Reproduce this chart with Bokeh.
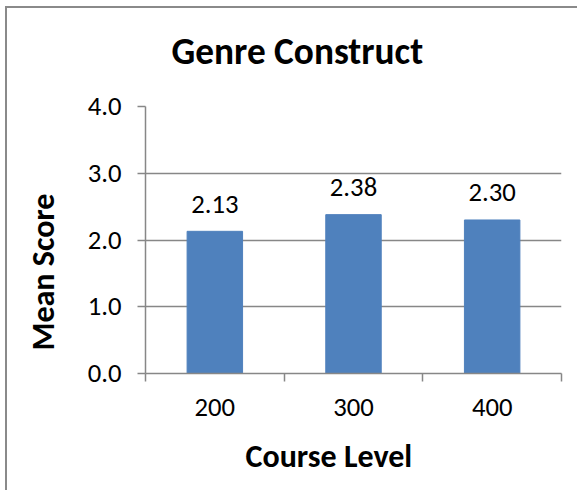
from bokeh.plotting import figure
from bokeh.models import Range1d, FixedTicker, Title
from bokeh.embed import file_html
from bokeh.resources import INLINE
from bokeh.core.properties import value

categories = ["200", "300", "400"]
scores = [2.13, 2.38, 2.30]
score_labels = ["2.13", "2.38", "2.30"]
y_ticks = [0, 1, 2, 3, 4]
title_text = "Genre Construct"
x_title = "Course Level"
y_title = "Mean Score"

FONT = "Carlito"
GRID = "#878787"
BAR = "#4F81BD"

positions = [i + 0.5 for i in range(len(categories))]
boundaries = list(range(len(categories) + 1))

p = figure(width=572, height=484,
           x_range=Range1d(0, len(categories)), y_range=Range1d(0, 4),
           output_backend="svg", toolbar_location=None, title=None,
           min_border_left=138, min_border_right=18,
           min_border_top=98, min_border_bottom=119)
p.styles = {"border-left": "2px solid #8a8a8a", "border-top": "2px solid #8a8a8a",
            "margin-left": "5px", "margin-top": "6px"}
p.outline_line_color = None
p.background_fill_color = "white"
p.border_fill_color = "white"

p.vbar(x=positions, top=scores, width=0.4, color=BAR)
p.text(x=positions, y=scores, text=score_labels, text_align="center",
       text_baseline="middle", y_offset=-27, text_font=value(FONT),
       text_font_size="26.7px", text_color="black")

# y axis
ya = p.yaxis[0]
ya.ticker = FixedTicker(ticks=y_ticks)
ya.major_label_overrides = {t: f"{t:.1f}" for t in y_ticks}
ya.major_tick_out = 8
ya.major_tick_in = 0
ya.minor_tick_out = 0
ya.minor_tick_in = 0
ya.axis_line_color = GRID
ya.axis_line_width = 1.5
ya.major_tick_line_color = GRID
ya.major_tick_line_width = 1.5
ya.major_label_text_font = FONT
ya.major_label_text_font_size = "26.7px"
ya.major_label_text_color = "black"
ya.major_label_standoff = 16

# x axis: labels at category centres, tick marks at category boundaries
xa = p.xaxis[0]
xa.ticker = FixedTicker(ticks=positions, minor_ticks=boundaries)
xa.major_label_overrides = {pos: c for pos, c in zip(positions, categories)}
xa.major_tick_out = 0
xa.major_tick_in = 0
xa.minor_tick_out = 8
xa.minor_tick_in = 0
xa.minor_tick_line_color = GRID
xa.minor_tick_line_width = 1.5
xa.axis_line_color = GRID
xa.axis_line_width = 1.5
xa.major_label_text_font = FONT
xa.major_label_text_font_size = "26.7px"
xa.major_label_text_color = "black"
xa.major_label_standoff = 17

p.xgrid.grid_line_color = None
p.ygrid.ticker = FixedTicker(ticks=y_ticks)
p.ygrid.grid_line_color = GRID
p.ygrid.grid_line_width = 1.5

# chart title (a blank spacer title keeps it clear of the plot area)
p.add_layout(Title(text=" ", text_font_size="1px", standoff=30), "above")
p.add_layout(Title(text=title_text, align="left", offset=26, standoff=0,
                   vertical_align="bottom", text_font=FONT,
                   text_font_size="37.3px", text_font_style="bold",
                   text_color="black"), "above")
# x axis title
p.add_layout(Title(text=" ", text_font_size="1px", standoff=15), "below")
p.add_layout(Title(text=x_title, align="left", offset=100, standoff=0,
                   vertical_align="top", text_font=FONT, text_font_size="32px",
                   text_font_style="bold", text_color="black"), "below")
# y axis title
p.add_layout(Title(text=" ", text_font_size="1px", standoff=19), "left")
p.add_layout(Title(text=y_title, align="left", offset=23, standoff=0,
                   vertical_align="bottom", text_font=FONT, text_font_size="32px",
                   text_font_style="bold", text_color="black"), "left")

open("out.html", "w").write(file_html(p, INLINE))
